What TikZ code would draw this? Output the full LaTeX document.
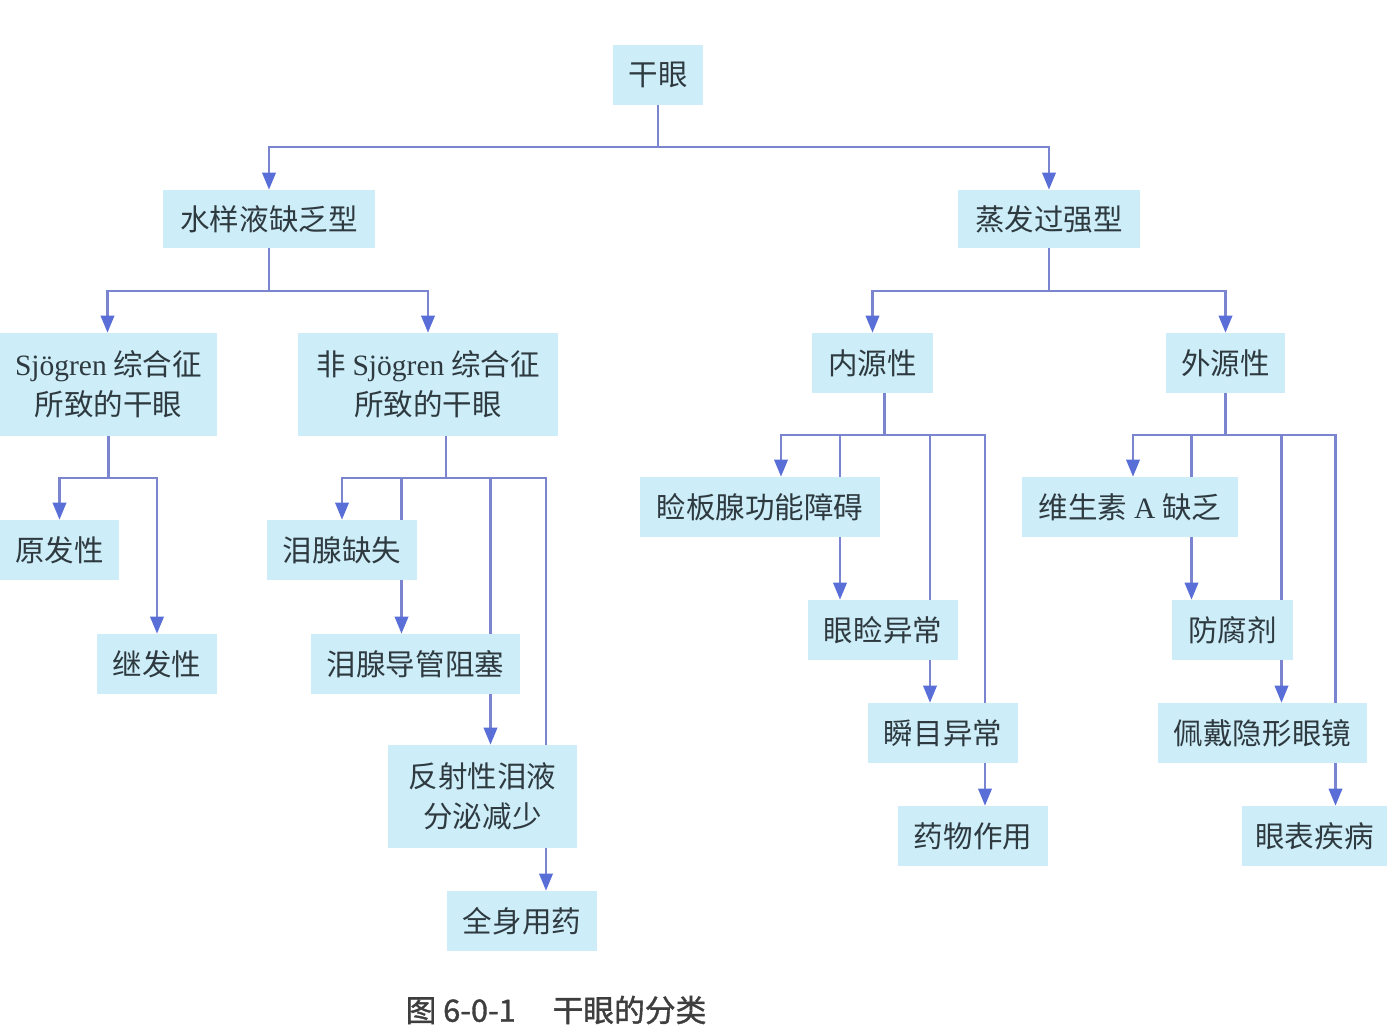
\documentclass[tikz,border=0pt]{standalone}
\usepackage{fontspec}
\setmainfont{Liberation Serif}
\newfontfamily\cjk{Noto Sans CJK SC}
\newfontfamily\cjkcap[FakeBold=1.2]{Noto Sans CJK SC}
\newfontfamily\serifl{Liberation Serif}
\newcommand\latw[1]{{\serifl #1}}
\usetikzlibrary{arrows.meta,calc,backgrounds}
\definecolor{boxfill}{HTML}{CDEDF8}
\definecolor{linkc}{HTML}{7A84CF}
\definecolor{tipc}{HTML}{5A6ED8}
\definecolor{txt}{HTML}{2E3A40}
\definecolor{captc}{HTML}{3E3E3E}
\begin{document}
\begin{tikzpicture}[x=0.02cm,y=-0.02cm,
  box/.style 2 args={rectangle, fill=boxfill, draw=none, inner sep=0pt,
    minimum width=#1*0.02cm, minimum height=#2*0.02cm, align=center,
    text=txt, font=\cjk\fontsize{16.8}{23}\selectfont},
  link/.style={draw=linkc, line width=1.2pt},
  arr/.style={link, -{Triangle[width=0.27cm,length=0.34cm,color=tipc]}}]
\useasboundingbox (0,0) rectangle (1387,1033);

% top
\node[box={90}{60}] (gy) at (658,75) {干眼};
\node[box={212}{58}] (sy) at (269,219) {水样液缺乏型};
\node[box={182}{58}] (zf) at (1049,219) {蒸发过强型};

% second level
\node[box={217}{103}] (sj) at (108.5,384.5) {\latw{Sjögren} 综合征\\所致的干眼};
\node[box={260}{103}] (fs) at (428,384.5) {非 \latw{Sjögren} 综合征\\所致的干眼};
\node[box={121}{60}] (ny) at (872.5,363) {内源性};
\node[box={119}{60}] (wy) at (1225.5,363) {外源性};

% Sjögren branch
\node[box={119}{60}] (yf) at (59.5,550) {原发性};
\node[box={120}{60}] (jf) at (157,664) {继发性};

% non-Sjögren branch
\node[box={150}{60}] (lq) at (342,550) {泪腺缺失};
\node[box={209}{60}] (dg) at (415.5,664) {泪腺导管阻塞};
\node[box={189}{103}] (fx) at (482.5,796.5) {反射性泪液\\分泌减少};
\node[box={150}{60}] (qs) at (522,921) {全身用药};

% intrinsic branch
\node[box={240}{60}] (jb) at (760,507) {睑板腺功能障碍};
\node[box={150}{60}] (yj) at (883,630) {眼睑异常};
\node[box={150}{60}] (sm) at (943,733) {瞬目异常};
\node[box={150}{60}] (yw) at (973,836) {药物作用};

% extrinsic branch
\node[box={216}{60}] (ws) at (1130,507) {维生素 \latw{A} 缺乏};
\node[box={121}{60}] (ff) at (1232.5,630) {防腐剂};
\node[box={209}{60}] (pd) at (1262.5,733) {佩戴隐形眼镜};
\node[box={145}{60}] (yb) at (1314.5,836) {眼表疾病};

\node[text=captc, font=\cjkcap\fontsize{17.5}{20}\selectfont] (cap) at (556,1010)
  {图 6-0-1\hspace{1.2em}干眼的分类};

\begin{pgfonlayer}{background}
  % level 1
  \draw[link] (gy.south) -- ++(0,42) coordinate (b0);
  \draw[arr] (b0) -| (sy.north);
  \draw[arr] (b0) -| (zf.north);
  % level 2
  \draw[link] (sy.south) -- ++(0,43) coordinate (b1);
  \draw[arr] (b1) -| ($(sj.north)+(-1,0)$);
  \draw[arr] (b1) -| (fs.north);
  \draw[link] (zf.south) -- ++(0,43) coordinate (b2);
  \draw[arr] (b2) -| (ny.north);
  \draw[arr] (b2) -| (wy.north);
  % Sjögren
  \draw[link] (sj.south) -- ++(0,42) coordinate (b3);
  \draw[arr] (b3) -| (yf.north);
  \draw[arr] (b3) -| (jf.north);
  % non-Sjögren
  \draw[link] ($(fs.south)+(18,0)$) -- ++(0,42) coordinate (b4);
  \draw[arr] (b4) -| (lq.north);
  \draw[arr] (b4) -| ($(dg.north)+(-14,0)$);
  \draw[arr] (b4) -| ($(fx.north)+(8,0)$);
  \draw[arr] (b4) -| ($(qs.north)+(24,0)$);
  % intrinsic
  \draw[link] ($(ny.south)+(12,0)$) -- ++(0,42) coordinate (b5);
  \draw[arr] (b5) -| ($(jb.north)+(21,0)$);
  \draw[arr] (b5) -| ($(yj.north)+(-43,0)$);
  \draw[arr] (b5) -| ($(sm.north)+(-13,0)$);
  \draw[arr] (b5) -| ($(yw.north)+(12,0)$);
  % extrinsic
  \draw[link] (wy.south) -- ++(0,42) coordinate (b6);
  \draw[arr] (b6) -| ($(ws.north)+(3,0)$);
  \draw[arr] (b6) -| ($(ff.north)+(-41,0)$);
  \draw[arr] (b6) -| ($(pd.north)+(19,0)$);
  \draw[arr] (b6) -| ($(yb.north)+(21,0)$);
\end{pgfonlayer}
\end{tikzpicture}
\end{document}
